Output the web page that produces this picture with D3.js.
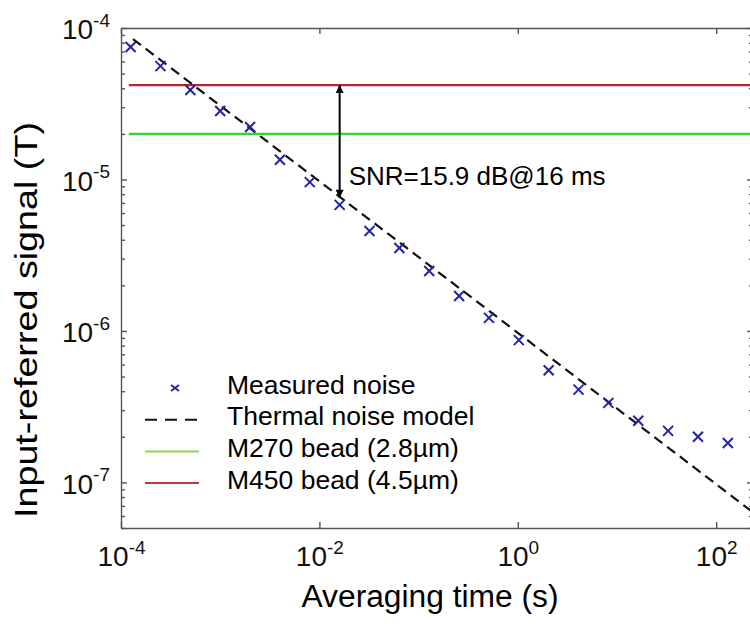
<!DOCTYPE html>
<html>
<head>
<meta charset="utf-8">
<script src="https://cdn.jsdelivr.net/npm/d3@7"></script>
<style>
  body { margin: 0; background: #fff; }
  svg { display: block; font-family: "Liberation Sans", Arial, sans-serif; }
  .axis path, .axis line { stroke: #555; stroke-width: 1.4; fill: none; }
  .axis text { fill: #111; font-size: 28px; font-family: "Liberation Sans", Arial, sans-serif; }
</style>
</head>
<body>
<div id="chart"></div>
<script>
// measured noise: averaging time (s) and input-referred noise (T)
var times = [1.25e-4, 2.5e-4, 5e-4, 1e-3, 2e-3, 4e-3, 8e-3, 0.016, 0.032, 0.064, 0.128,
  0.256, 0.512, 1.024, 2.048, 4.096, 8.192, 16.384, 32.768, 65.536, 131.072];
var noise = [7.5e-5, 5.6e-5, 3.9e-5, 2.83e-5, 2.22e-5, 1.35e-5, 9.6e-6, 6.8e-6, 4.57e-6, 3.53e-6, 2.49e-6,
  1.7e-6, 1.22e-6, 8.7e-7, 5.5e-7, 4.1e-7, 3.35e-7, 2.55e-7, 2.19e-7, 2.0e-7, 1.82e-7];

// thermal noise model (end points of the line)
var modelTimes = [1.32e-4, 250];
var modelNoise = [8.46e-5, 6.15e-8];

// bead signal levels (T), drawn from beadStart onward
var beadNames = ["M270 bead (2.8µm)", "M450 bead (4.5µm)"];
var beadLevels = [2.0e-5, 4.2e-5];
var beadStart = 1.2e-4;

// annotation
var snrTime = 0.016;
var snrLabel = "SNR=15.9 dB@16 ms";

var legendNames = ["Measured noise", "Thermal noise model"].concat(beadNames);

var xTicks = [1e-4, 1e-2, 1, 1e2];
var yTicks = [1e-7, 1e-6, 1e-5, 1e-4];

var colors = {marker: "#2222aa", green: "#2fd82f", red: "#b0283a", legendGreen: "#8fd84a", legendRed: "#c0343f"};
var beadColors = [colors.green, colors.red];

var W = 750, H = 624;
var margin = {left: 121, top: 28};
var width = 632, height = 500;

var svg = d3.select("#chart").append("svg")
  .attr("width", W)
  .attr("height", H);

var g = svg.append("g")
  .attr("transform", "translate(" + margin.left + "," + margin.top + ")");

var x = d3.scaleLog().domain([1e-4, 235]).range([0, width]);
var y = d3.scaleLog().domain([5e-8, 1e-4]).range([height, 0]);

svg.append("defs").append("clipPath")
    .attr("id", "plot-clip")
  .append("rect")
    .attr("width", width)
    .attr("height", height);

svg.select("defs").append("marker")
  .attr("id", "arrow")
  .attr("viewBox", "0 0 10 10")
  .attr("refX", 10)
  .attr("refY", 5)
  .attr("markerUnits", "userSpaceOnUse")
  .attr("markerWidth", 10)
  .attr("markerHeight", 8)
  .attr("orient", "auto-start-reverse")
  .append("path")
  .attr("d", "M0,0L10,5L0,10Z")
  .style("fill", "#000");

// superscript tick labels, 10^n
function powLabel(sel){
  sel.selectAll(".tick text").each(function(d){
    var t = d3.select(this).text(null);
    t.append("tspan").text("10");
    t.append("tspan")
      .attr("dy", "-0.65em")
      .style("font-size", "19px")
      .text(Math.round(Math.log10(d)));
  });
}

var minorY = y.ticks().filter(function(d){ return yTicks.indexOf(d) < 0; });

// axes, ticks pointing inward
g.append("g")
  .attr("class", "axis")
  .attr("transform", "translate(0," + height + ")")
  .call(d3.axisBottom(x).tickValues(xTicks).tickSizeInner(-6).tickSizeOuter(0).tickPadding(18))
  .call(powLabel);

g.append("g")
  .attr("class", "axis")
  .call(d3.axisTop(x).tickValues(xTicks).tickSizeInner(-6).tickSizeOuter(0).tickFormat(""));

g.append("g")
  .attr("class", "axis")
  .call(d3.axisLeft(y).tickValues(yTicks).tickSizeInner(-6).tickSizeOuter(0).tickPadding(11))
  .call(powLabel)
  .selectAll(".tick text").attr("dy", "0.38em");

g.append("g")
  .attr("class", "axis")
  .call(d3.axisLeft(y).tickValues(minorY).tickSizeInner(-4).tickSizeOuter(0).tickFormat(""))
  .select(".domain").remove();

g.append("g")
  .attr("class", "axis")
  .attr("transform", "translate(" + width + ",0)")
  .call(d3.axisRight(y).tickValues(yTicks).tickSizeInner(-6).tickSizeOuter(0).tickFormat(""));

g.append("g")
  .attr("class", "axis")
  .attr("transform", "translate(" + width + ",0)")
  .call(d3.axisRight(y).tickValues(minorY).tickSizeInner(-4).tickSizeOuter(0).tickFormat(""))
  .select(".domain").remove();

// bead levels
g.selectAll(".bead")
    .data(beadLevels)
  .enter().append("line")
    .attr("class", "bead")
    .attr("x1", x(beadStart))
    .attr("x2", width)
    .attr("y1", function(d){ return y(d); })
    .attr("y2", function(d){ return y(d); })
    .style("stroke", function(d, i){ return beadColors[i]; })
    .style("stroke-width", 2.2);

// thermal model
var line = d3.line()
  .x(function(d){ return x(d[0]); })
  .y(function(d){ return y(d[1]); });

g.append("path")
  .datum(d3.zip(modelTimes, modelNoise))
  .attr("clip-path", "url(#plot-clip)")
  .attr("d", line)
  .style("fill", "none")
  .style("stroke", "#111")
  .style("stroke-width", 2.2)
  .style("stroke-dasharray", "10,6");

// measured points
var cross = "M-5,-5L5,5M-5,5L5,-5";
g.selectAll(".pt")
    .data(d3.zip(times, noise))
  .enter().append("path")
    .attr("class", "pt")
    .attr("d", cross)
    .attr("transform", function(d){ return "translate(" + x(d[0]) + "," + y(d[1]) + ")"; })
    .style("fill", "none")
    .style("stroke", colors.marker)
    .style("stroke-width", 2);

// SNR arrow between the M450 level and the 16 ms point
var snrNoise = noise[times.indexOf(snrTime)];
g.append("line")
  .attr("x1", x(snrTime))
  .attr("x2", x(snrTime))
  .attr("y1", y(beadLevels[1]))
  .attr("y2", y(snrNoise) - 7)
  .attr("marker-start", "url(#arrow)")
  .attr("marker-end", "url(#arrow)")
  .style("stroke", "#000")
  .style("stroke-width", 2);

g.append("text")
  .attr("x", x(snrTime) + 9)
  .attr("y", (y(beadLevels[0]) + y(snrNoise)) / 2 + 16)
  .style("font-size", "26px")
  .text(snrLabel);

// legend
var legend = g.append("g")
  .attr("transform", "translate(24,356)");

var row = legend.selectAll(".row")
    .data(legendNames)
  .enter().append("g")
    .attr("class", "row")
    .attr("transform", function(d, i){ return "translate(0," + (i * 31.7) + ")"; });

row.append("text")
  .attr("x", 82)
  .attr("dy", "0.36em")
  .style("font-size", "26.5px")
  .text(function(d){ return d; });

row.filter(function(d, i){ return i == 0; }).append("path")
  .attr("d", "M-4,-3L4,3M-4,3L4,-3")
  .attr("transform", "translate(30,4)")
  .style("stroke", colors.marker)
  .style("stroke-width", 2);

row.filter(function(d, i){ return i > 0; }).append("line")
  .attr("x1", 0)
  .attr("x2", 54)
  .attr("y1", 4)
  .attr("y2", 4)
  .style("stroke", function(d, i){ return [null, "#111", colors.legendGreen, colors.legendRed][i + 1]; })
  .style("stroke-width", 2)
  .style("stroke-dasharray", function(d, i){ return i == 0 ? "12,8" : null; });

// axis titles
svg.append("text")
  .attr("x", 430)
  .attr("y", 607)
  .attr("text-anchor", "middle")
  .attr("textLength", 257)
  .attr("lengthAdjust", "spacingAndGlyphs")
  .style("font-size", "31px")
  .text("Averaging time (s)");

svg.append("text")
  .attr("transform", "translate(37,320) rotate(-90)")
  .attr("text-anchor", "middle")
  .attr("textLength", 396)
  .attr("lengthAdjust", "spacingAndGlyphs")
  .style("font-size", "31px")
  .text("Input-referred signal (T)");
</script>
</body>
</html>
